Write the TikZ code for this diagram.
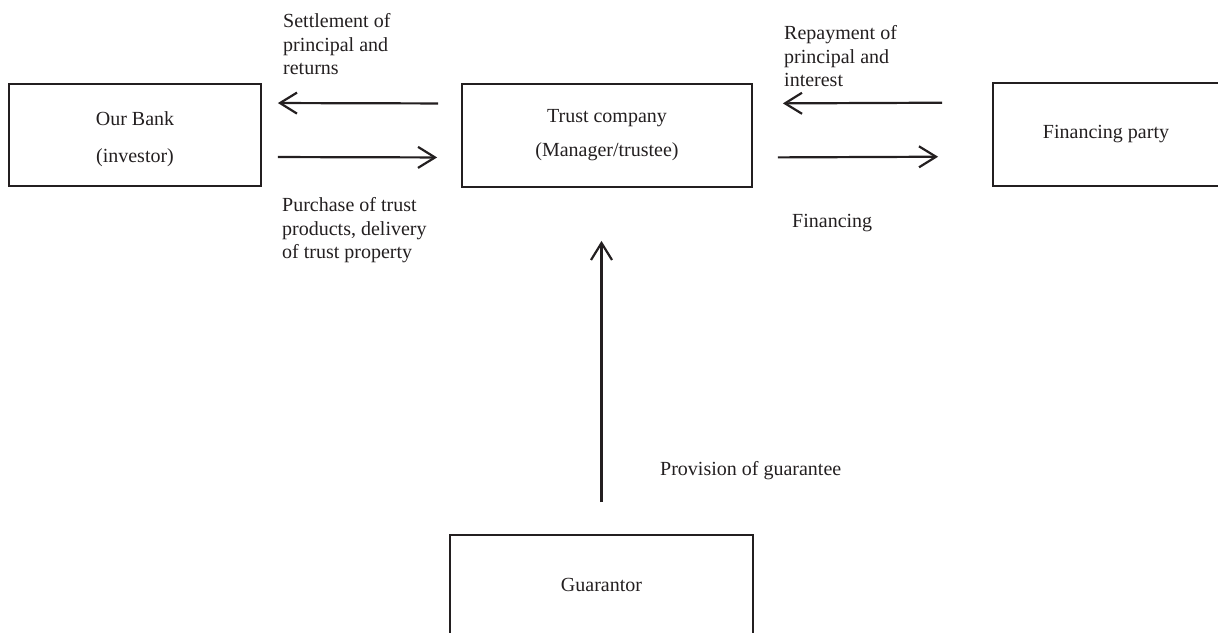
\documentclass[tikz,border=0pt]{standalone}
\usepackage{fontspec}
\setmainfont{Liberation Serif}
\usetikzlibrary{arrows.meta}
\definecolor{ink}{RGB}{35,31,32}
\begin{document}
\begin{tikzpicture}[x=1pt,y=-1pt,
  every node/.style={text=ink},
  box/.style={draw=ink, line width=1.8pt, rectangle, inner sep=0pt, align=center},
  lbl/.style={inner sep=0pt, align=left, font=\fontsize{20}{23.5}\selectfont},
  flow/.style={draw=ink, line width=2.2pt,
    -{Straight Barb[length=17pt,width=21pt,line width=2.2pt]}}
]
\useasboundingbox (0,0) rectangle (1218,632);
\clip (0,0) rectangle (1218,632);

% parties
\node[box, minimum width=252pt, minimum height=102pt, text height=58.7pt,
      font=\fontsize{20}{37}\selectfont] (bank) at (135,135)
      {Our Bank\\(investor)};
\node[box, minimum width=290pt, minimum height=103pt,
      font=\fontsize{20}{34}\selectfont] (trust) at (607,135.5)
      {Trust company\\(Manager/trustee)};
\node[box, minimum width=226pt, minimum height=103pt,
      font=\fontsize{20}{24}\selectfont] (fin) at (1106,134.5)
      {Financing party};
\node[box, minimum width=303pt, text height=56pt, text depth=100pt,
      anchor=base, font=\fontsize{20}{24}\selectfont] (guar) at (601.5,591)
      {Guarantor};

% flows between bank and trust company
\draw[flow, shorten <=23pt, shorten >=16pt]
  ([yshift=32pt]trust.west) -- ([yshift=32pt]bank.east);
\draw[flow, shorten <=16pt, shorten >=24pt]
  ([yshift=-22pt]bank.east) -- ([yshift=-22pt]trust.west);

% flows between trust company and financing party
\draw[flow, shorten <=50pt, shorten >=30pt]
  ([yshift=32pt]fin.west) -- ([yshift=32pt]trust.east);
\draw[flow, shorten <=25pt, shorten >=54pt]
  ([yshift=-22pt]trust.east) -- ([yshift=-22pt]fin.west);

% guarantee
\draw[flow, shorten <=32pt, shorten >=53pt]
  (guar.north) -- (guar.north |- trust.south);

% flow labels
\node[lbl, anchor=north west] (settle) at (283,13.3)
  {Settlement of\\principal and\\returns};
\node[lbl, anchor=north west] (purchase) at (282,197.3)
  {Purchase of trust\\products, delivery\\of trust property};
\node[lbl, anchor=north west] (repay) at (784,25.3)
  {Repayment of\\principal and\\interest};
\node[lbl, anchor=base west] (financing) at (792,227) {Financing};
\node[lbl, anchor=base west] (provision) at (660,475) {Provision of guarantee};
\end{tikzpicture}
\end{document}
